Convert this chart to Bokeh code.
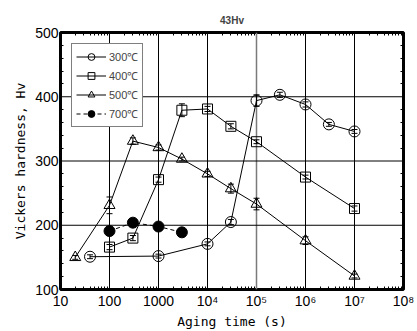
from bokeh.plotting import figure
from bokeh.models import (LogAxis, LinearAxis, Range1d, Legend, LegendItem, Span,
                          FixedTicker, Whisker, ColumnDataSource)
from bokeh.embed import file_html
from bokeh.resources import INLINE

# ---- data ----
t300 = [40, 1000, 10000, 30000, 100000, 300000, 1000000, 3000000, 10000000]
hv300 = [151, 152, 171, 205, 394, 403, 388, 357, 346]
e300 = [3, 3, 3, 4, 9, 4, 4, 3, 3]

t400 = [100, 300, 1000, 3000, 10000, 30000, 100000, 1000000, 10000000]
hv400 = [166, 180, 271, 379, 381, 354, 330, 275, 226]
e400 = [4, 4, 4, 10, 4, 4, 3, 3, 4]

t500 = [20, 100, 300, 1000, 3000, 10000, 30000, 100000, 1000000, 10000000]
hv500 = [150, 231, 331, 321, 303, 280, 257, 233, 176, 121]
e500 = [3, 13, 5, 4, 3, 4, 7, 9, 6, 3]

t700 = [100, 300, 1000, 3000]
hv700 = [191, 204, 198, 189]

x_ticks = [10, 100, 1000, 10000, 100000, 1000000, 10000000, 100000000]
x_labels = ["10", "100", "1000", "10\u2074", "10\u2075", "10\u2076", "10\u2077", "10\u2078"]
y_ticks = [100, 200, 300, 400, 500]

series_labels = ["300\u2103", "400\u2103", "500\u2103", "700\u2103"]

LABEL_FONT = "DejaVu Sans Mono"
TICK_FONT = "Liberation Sans"

p = figure(width=417, height=331, x_axis_type="log", output_backend="svg",
           toolbar_location=None,
           x_range=Range1d(10, 1e8), y_range=Range1d(100, 500),
           min_border_left=60, min_border_right=14, min_border_top=32,
           min_border_bottom=39)

p.outline_line_color = "black"
p.outline_line_width = 3
p.background_fill_color = "white"
p.border_fill_color = "white"

# grid lines (drawn at the inner major ticks)
p.xgrid.visible = False
p.ygrid.visible = False
for t in x_ticks[1:-1]:
    p.add_layout(Span(location=t, dimension="height", level="underlay",
                      line_color="#7a7a7a" if t == 100000 else "black",
                      line_width=1.5 if t == 100000 else 1))
for t in y_ticks[1:-1]:
    p.add_layout(Span(location=t, dimension="width", level="underlay",
                      line_color="black", line_width=1))

# axes
minor_x = []
for d in range(1, 8):
    for m in range(2, 10):
        minor_x.append(m * 10 ** d)
minor_y = [v for v in range(100, 501, 20) if v % 100 != 0]

xa = p.xaxis[0]
xa.ticker = FixedTicker(ticks=x_ticks, minor_ticks=minor_x)
xa.major_label_overrides = {t: l for t, l in zip(x_ticks, x_labels)}
ya = p.yaxis[0]
ya.ticker = FixedTicker(ticks=y_ticks, minor_ticks=minor_y)

for ax in (xa, ya):
    ax.axis_line_color = None
    ax.major_tick_in = 0
    ax.major_tick_out = 0
    ax.minor_tick_in = 3
    ax.minor_tick_out = 0
    ax.minor_tick_line_color = "black"
    ax.major_label_text_font = TICK_FONT
    ax.major_label_text_font_size = "14px"
    ax.major_label_text_color = "black"
    ax.axis_label_text_font = LABEL_FONT
    ax.axis_label_text_font_size = "13px"
    ax.axis_label_text_font_style = "normal"
    ax.axis_label_text_color = "black"
xa.major_label_standoff = 3
ya.major_label_standoff = 2
xa.axis_label = "Aging time (s)"
ya.axis_label = "Vickers hardness, Hv"
xa.axis_label_standoff = 2
ya.axis_label_standoff = 4

top = LogAxis(ticker=FixedTicker(ticks=x_ticks, minor_ticks=minor_x),
              major_label_text_color=None, axis_line_color=None,
              major_tick_in=0, major_tick_out=0, minor_tick_in=3, minor_tick_out=0,
              major_label_standoff=0)
right = LinearAxis(ticker=FixedTicker(ticks=y_ticks, minor_ticks=minor_y),
                   major_label_text_color=None, axis_line_color=None,
                   major_tick_in=0, major_tick_out=0, minor_tick_in=3, minor_tick_out=0,
                   major_label_standoff=0)
p.add_layout(top, "above")
p.add_layout(right, "right")

# title
p.title.text = "43Hv"
p.title.align = "center"
p.title.text_font = "Liberation Sans"
p.title.text_font_size = "10px"
p.title.text_font_style = "bold"
p.title.standoff = 13

# error bars
for xs, ys, es in ((t300, hv300, e300), (t400, hv400, e400), (t500, hv500, e500)):
    src = ColumnDataSource(dict(x=xs, lo=[y - e for y, e in zip(ys, es)],
                                hi=[y + e for y, e in zip(ys, es)]))
    w = Whisker(base="x", lower="lo", upper="hi", source=src, line_color="black",
                line_width=1)
    w.upper_head.size = 6
    w.lower_head.size = 6
    w.upper_head.line_color = "black"
    w.lower_head.line_color = "black"
    p.add_layout(w)

# series
l300 = p.line(t300, hv300, line_color="black", line_width=1)
m300 = p.scatter(t300, hv300, marker="circle", size=11, fill_color=None,
                 line_color="black", line_width=1)
l400 = p.line(t400, hv400, line_color="black", line_width=1)
m400 = p.scatter(t400, hv400, marker="square", size=10, fill_color=None,
                 line_color="black", line_width=1)
l500 = p.line(t500, hv500, line_color="black", line_width=1)
m500 = p.scatter(t500, hv500, marker="triangle", size=11, fill_color=None,
                 line_color="black", line_width=1)
l700 = p.line(t700, hv700, line_color="black", line_width=1, line_dash="4 3")
m700 = p.scatter(t700, hv700, marker="circle", size=11, fill_color="black",
                 line_color="black", line_width=1)

legend = Legend(items=[
    LegendItem(label=series_labels[0], renderers=[l300, m300]),
    LegendItem(label=series_labels[1], renderers=[l400, m400]),
    LegendItem(label=series_labels[2], renderers=[l500, m500]),
    LegendItem(label=series_labels[3], renderers=[l700, m700]),
], location="top_left")
legend.margin = 11
legend.padding = 4
legend.spacing = 2
legend.glyph_width = 30
legend.glyph_height = 17
legend.label_text_font = TICK_FONT
legend.label_text_font_size = "11px"
legend.label_standoff = 3
legend.label_height = 17
legend.border_line_color = "black"
legend.border_line_width = 1.5
legend.background_fill_alpha = 1.0
p.add_layout(legend)

open("out.html", "w").write(file_html(p, INLINE))
